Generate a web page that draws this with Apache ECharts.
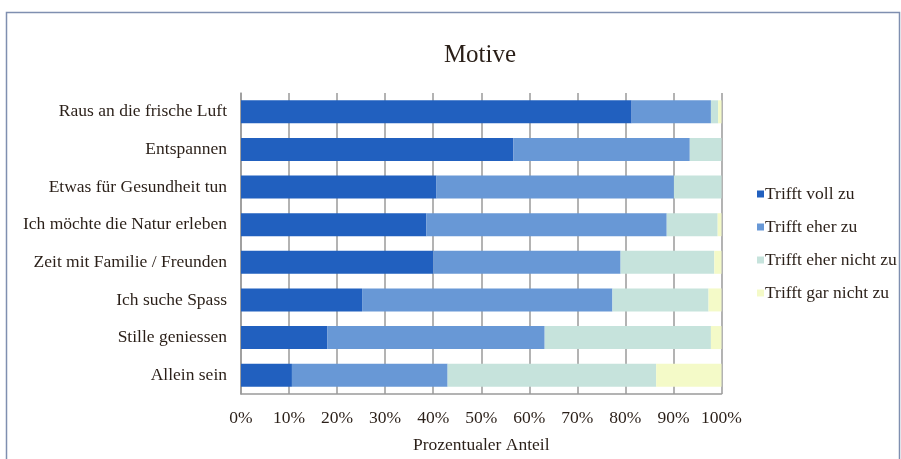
<!DOCTYPE html>
<html>
<head>
<meta charset="utf-8">
<script src="https://cdn.jsdelivr.net/npm/echarts@6/dist/echarts.min.js"></script>
<style>html,body{margin:0;padding:0;background:#fff}#c{width:901px;height:459px}</style>
</head>
<body>
<div id="c"></div>
<script>
const categories = ["Raus an die frische Luft","Entspannen","Etwas für Gesundheit tun","Ich möchte die Natur erleben","Zeit mit Familie / Freunden","Ich suche Spass","Stille geniessen","Allein sein"];
const seriesNames = ["Trifft voll zu","Trifft eher zu","Trifft eher nicht zu","Trifft gar nicht zu"];
const vollZu = [81.3,56.7,40.7,38.6,40.0,25.2,18.0,10.6];
const eherZu = [16.5,36.7,49.4,50.0,39.0,52.1,45.2,32.4];
const eherNicht = [1.5,6.6,9.9,10.6,19.5,20.0,34.6,43.4];
const garNicht = [0.7,0.0,0.0,0.8,1.5,2.7,2.2,13.6];
const xTicks = [0,10,20,30,40,50,60,70,80,90,100];

const colors = ['#2160bf','#6898d6','#c6e3dc','#f4fac8'];
const font = "'Liberation Serif', 'DejaVu Serif', serif";
const txt = '#2a1f18';
const data = [vollZu, eherZu, eherNicht, garNicht];

const chart = echarts.init(document.getElementById('c'));
chart.setOption({
  animation: false,
  color: colors,
  title: {text:'Motive', left: 475, top: 38, textAlign:'center',
    textStyle:{fontFamily:font, fontSize:25, fontWeight:'normal', color:txt}},
  legend: {orient:'vertical', left: 752, top: 180, itemWidth:7, itemHeight:7, itemGap:15,
    icon:'rect', data: seriesNames,
    textStyle:{fontFamily:font, fontSize:17.5, color:txt, padding:[0,0,0,-4]}},
  grid: {left:241, right:179.5, top:93, bottom:62},
  xAxis: {type:'value', min:xTicks[0], max:xTicks[xTicks.length-1], interval:10,
    name:'Prozentualer Anteil', nameLocation:'middle', nameGap:42,
    nameTextStyle:{fontFamily:font, fontSize:17.5, color:txt},
    axisLabel:{formatter:'{value}%', fontFamily:font, fontSize:17.5, color:txt, margin:15},
    axisLine:{show:true, lineStyle:{color:'#9a9a9a', width:1.5}},
    axisTick:{show:false},
    splitLine:{show:true, lineStyle:{color:'#9a9a9a', width:1.5}}},
  yAxis: {type:'category', data:categories, inverse:true,
    axisLabel:{fontFamily:font, fontSize:17.5, color:txt, margin:14},
    axisLine:{show:true, lineStyle:{color:'#9a9a9a', width:1.5}},
    axisTick:{show:false}},
  series: seriesNames.map((n,i)=>({name:n, type:'bar', stack:'s', barWidth:23,
    data:data[i], itemStyle:{color:colors[i]}})),
  graphic: [{type:'rect', shape:{x:6.5, y:12.5, width:893, height:460}, silent:true,
    style:{fill:'none', stroke:'#7f8fb0', lineWidth:1.5}}]
});
</script>
</body>
</html>
